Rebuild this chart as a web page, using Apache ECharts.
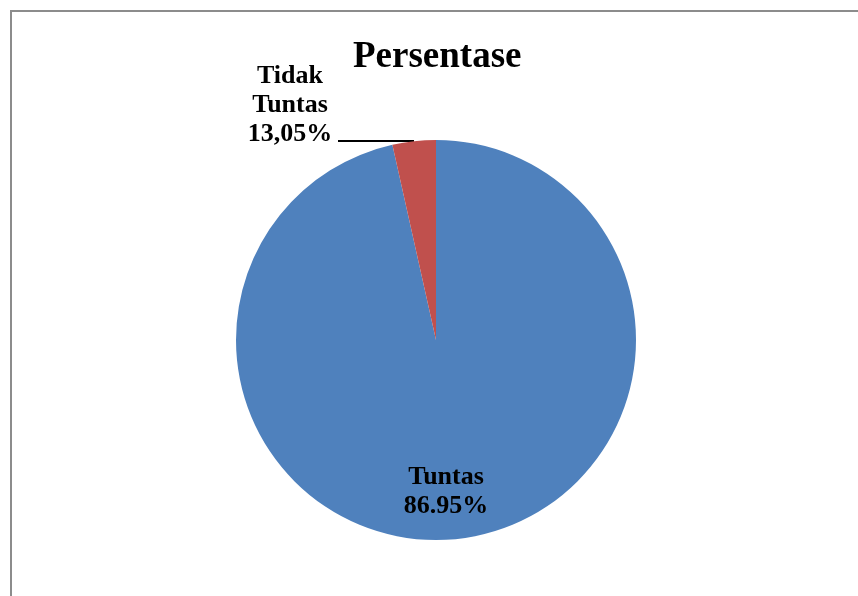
<!DOCTYPE html>
<html>
<head>
<meta charset="utf-8">
<script src="https://cdn.jsdelivr.net/npm/echarts@6/dist/echarts.min.js"></script>
<style>
  html, body { margin: 0; padding: 0; background: #fff; }
  #chart1 { width: 858px; height: 596px; }
</style>
</head>
<body>
<div id="chart1"></div>
<script>
// slice sizes as drawn in the picture; label texts as printed on it
var categories = ['Tuntas', 'Tidak Tuntas'];
var sliceValues = [96.5, 3.5];
var labelTexts = ['Tuntas\n86.95%', 'Tidak\nTuntas\n13,05%'];
var colors = ['#4F81BD', '#C0504D'];

function _initChart () {
    var myChart = echarts.init(document.getElementById('chart1'));
    var data = categories.map(function (name, i) {
        return {
            name: name,
            value: sliceValues[i],
            itemStyle: { color: colors[i] },
            label: { formatter: labelTexts[i] },
            labelLine: { show: i === 1 }
        };
    });
    var option = {
        backgroundColor: '#ffffff',
        animation: false,
        title: {
            text: 'Persentase',
            left: 348,
            top: 34,
            textStyle: {
                fontFamily: 'Liberation Serif',
                fontWeight: 'bold',
                fontSize: 37,
                color: '#000'
            }
        },
        graphic: [
            {
                type: 'rect',
                shape: { x: 11, y: 11, width: 900, height: 700 },
                style: { fill: null, stroke: '#8c8c8c', lineWidth: 2 }
            }
        ],
        series: [
            {
                type: 'pie',
                center: [436, 340],
                radius: 200,
                startAngle: 90,
                clockwise: true,
                data: data,
                label: {
                    show: true,
                    fontFamily: 'Liberation Serif',
                    fontWeight: 'bold',
                    fontSize: 26,
                    lineHeight: 29,
                    color: '#000',
                    align: 'center'
                },
                labelLine: {
                    show: true,
                    lineStyle: { color: '#000', width: 2 }
                },
                labelLayout: function (params) {
                    if (params.dataIndex === 0) {
                        return {
                            x: 446, y: 492,
                            align: 'center', verticalAlign: 'middle'
                        };
                    }
                    return {
                        x: 290, y: 105,
                        align: 'center', verticalAlign: 'middle',
                        labelLinePoints: [[414, 141], [338, 141], [338, 141]]
                    };
                },
                emphasis: { disabled: true }
            }
        ]
    };
    myChart.setOption(option);
    window.onresize = myChart.resize;
}
_initChart();
</script>
</body>
</html>
